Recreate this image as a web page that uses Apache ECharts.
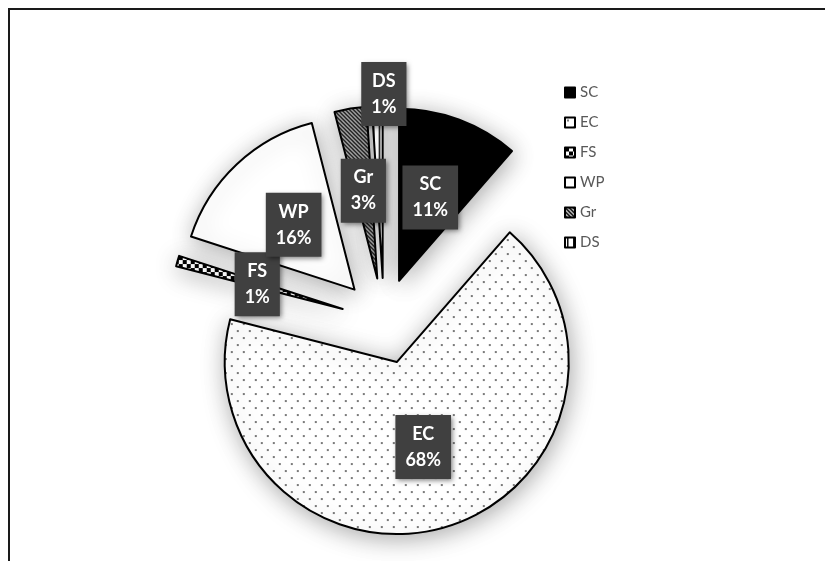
<!DOCTYPE html>
<html><head><meta charset="utf-8">
<script src="https://cdn.jsdelivr.net/npm/echarts@6/dist/echarts.min.js"></script>
<style>
html,body{margin:0;padding:0;background:#fff;}
#chart{position:absolute;left:0;top:0;width:825px;height:561px;}
#frame{position:absolute;left:8px;top:8px;width:817px;height:553px;border-top:2px solid #1a1a1a;border-left:2px solid #1a1a1a;box-sizing:border-box;pointer-events:none;}
</style></head><body>
<div id="chart"></div><div id="frame"></div>
<script>
// ---- data ----
const categories = ['SC', 'EC', 'FS', 'WP', 'Gr', 'DS'];
const values = [11.4, 67.6, 1.0, 16.0, 3.0, 1.0];

// ---- pattern fills ----
function makePattern(w, h, draw) {
  const c = document.createElement('canvas');
  c.width = w; c.height = h;
  const g = c.getContext('2d');
  g.fillStyle = '#ffffff'; g.fillRect(0, 0, w, h);
  draw(g);
  return { image: c, repeat: 'repeat' };
}
const dotFill = makePattern(12, 14, g => {
  g.fillStyle = '#7a7a7a';
  g.fillRect(2, 2, 2, 2);
  g.fillRect(8, 9, 2, 2);
});
const checkFill = makePattern(8, 8, g => {
  g.fillStyle = '#000';
  g.fillRect(0, 0, 4, 4);
  g.fillRect(4, 4, 4, 4);
});
const hatchFill = makePattern(4, 4, g => {
  g.strokeStyle = '#000'; g.lineWidth = 1.6;
  g.beginPath();
  g.moveTo(-1, -1); g.lineTo(5, 5);
  g.moveTo(-1, 3); g.lineTo(1, 5);
  g.moveTo(3, -1); g.lineTo(5, 1);
  g.stroke();
});
const vstripeFill = makePattern(6, 4, g => {
  g.fillStyle = '#000';
  g.fillRect(2, 0, 1.5, 4);
});
const fills = ['#000000', dotFill, checkFill, '#ffffff', hatchFill, vstripeFill];

const chart = echarts.init(document.getElementById('chart'), null, { renderer: 'canvas' });
const labelShift = { DS: [4, -95] };

chart.setOption({
  animation: false,
  backgroundColor: '#ffffff',
  legend: {
    orient: 'vertical', left: 559, top: 80,
    itemWidth: 10, itemHeight: 10, itemGap: 15,
    icon: 'rect', selectedMode: false,
    data: categories,
    textStyle: { color: '#595959', fontSize: 15, fontFamily: 'Lato' },
    itemStyle: { shadowBlur: 0, shadowOffsetX: 0, shadowOffsetY: 0, shadowColor: 'transparent', borderWidth: 2 }
  },
  series: [{
    type: 'pie',
    center: [384, 321],
    radius: [0, 172],
    startAngle: 90,
    clockwise: true,
    selectedMode: 'multiple',
    selectedOffset: 43,
    avoidLabelOverlap: false,
    itemStyle: {
      borderColor: '#000', borderWidth: 2,
      shadowBlur: 24, shadowColor: 'rgba(0,0,0,0.33)', shadowOffsetX: 2, shadowOffsetY: 4
    },
    label: {
      show: true, position: 'inside',
      formatter: p => p.name + '\n' + Math.round(p.percent) + '%',
      color: '#ffffff', fontFamily: 'Lato', fontWeight: 'bold', fontSize: 18, lineHeight: 26,
      backgroundColor: '#404040', padding: [6, 10, 6, 10],
      shadowBlur: 5, shadowColor: 'rgba(0,0,0,0.5)', shadowOffsetX: 2, shadowOffsetY: 2
    },
    labelLine: { show: false },
    labelLayout: function (params) {
      const name = categories[params.dataIndex];
      const s = labelShift[name];
      return s ? { hideOverlap: false, dx: s[0], dy: s[1] } : { hideOverlap: false };
    },
    emphasis: { disabled: true, scale: false },
    data: categories.map((n, i) => ({ name: n, value: values[i], selected: true, itemStyle: { color: fills[i] } }))
  }]
});
</script>
</body></html>
